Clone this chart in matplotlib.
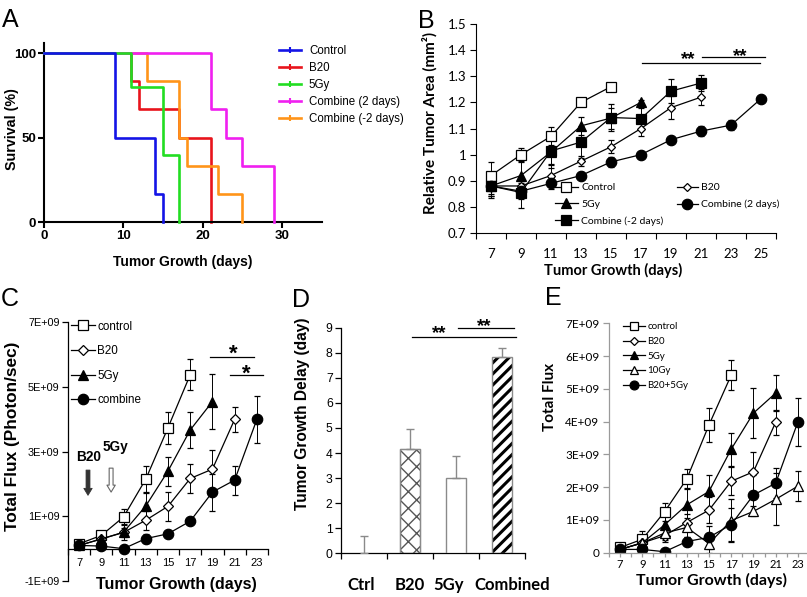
import matplotlib
matplotlib.use('Agg')
import matplotlib.pyplot as plt
import numpy as np
from matplotlib.lines import Line2D

W, H = 807, 597
fig = plt.figure(figsize=(W / 100, H / 100), dpi=100)

ARIAL = ['Liberation Sans', 'DejaVu Sans']
CALI = ['Lato', 'DejaVu Sans']


def box(l, t, r, b):
    return [l / W, 1 - b / H, (r - l) / W, (b - t) / H]


def ftext(x, y, s, **kw):
    return fig.text(x / W, 1 - y / H, s, **kw)


# ================= DATA =================
# Panel A: Kaplan-Meier survival
a_labels = ['Control', 'B20', '5Gy', 'Combine (2 days)', 'Combine (-2 days)']
a_colors = ['#1414e6', '#e8141c', '#22dd22', '#f020f0', '#ff9419']
a_ctrl_t = [0, 9, 14, 15]
a_ctrl_s = [100, 50, 16.7, 0]
a_b20_t = [0, 11, 12, 17, 21]
a_b20_s = [100, 83.3, 66.7, 50, 0]
a_5gy_t = [0, 11, 15, 17]
a_5gy_s = [100, 80, 40, 0]
a_c2_t = [0, 21, 23, 25, 29]
a_c2_s = [100, 66.7, 50, 33.3, 0]
a_cm2_t = [0, 13, 17, 18, 22, 25]
a_cm2_s = [100, 83.3, 50, 33.3, 16.7, 0]
a_xticks = [0, 10, 20, 30]
a_yticks = [0, 50, 100]

# Panel B: relative tumor area
b_days = ['7', '9', '11', '13', '15', '17', '19', '21', '23', '25']
b_labels = ['Control', 'B20', '5Gy', 'Combine (2 days)', 'Combine (-2 days)']
b_ctrl = [0.92, 1.00, 1.07, 1.20, 1.26]
b_ctrl_err = [0.05, 0.025, 0.035, 0.01, 0.01]
b_b20 = [0.88, 0.88, 0.92, 0.975, 1.03, 1.10, 1.18, 1.22]
b_b20_err = [0.04, 0.02, 0.04, 0.02, 0.025, 0.03, 0.045, 0.03]
b_5gy = [0.88, 0.92, 1.01, 1.11, 1.14, 1.20]
b_5gy_err = [0.03, 0.05, 0.06, 0.035, 0.04, 0.01]
b_c2 = [0.88, 0.86, 0.89, 0.92, 0.972, 1.00, 1.057, 1.09, 1.113, 1.214]
b_c2_err = [0.04, 0.03, 0.02, 0.015, 0.02, 0.01, 0.01, 0.02, 0.02, 0.012]
b_cm2 = [0.88, 0.855, 1.014, 1.048, 1.142, 1.138, 1.243, 1.274]
b_cm2_err = [0.045, 0.06, 0.05, 0.06, 0.05, 0.04, 0.045, 0.03]
b_yticks = [0.7, 0.8, 0.9, 1.0, 1.1, 1.2, 1.3, 1.4, 1.5]
b_yticklabels = ['0.7', '0.8', '0.9', '1', '1.1', '1.2', '1.3', '1.4', '1.5']

# Panel C: total flux (x1e9 photon/sec)
c_days = ['7', '9', '11', '13', '15', '17', '19', '21', '23']
c_labels = ['control', 'B20', '5Gy', 'combine']
c_ctrl = [0.15, 0.41, 0.98, 2.15, 3.74, 5.38]
c_ctrl_err = [0.05, 0.08, 0.25, 0.4, 0.5, 0.47]
c_b20 = [0.10, 0.30, 0.50, 0.88, 1.31, 2.17, 2.46, 4.00]
c_b20_err = [0.05, 0.05, 0.15, 0.3, 0.45, 0.45, 0.6, 0.38]
c_5gy = [0.10, 0.30, 0.51, 1.32, 2.40, 3.67, 4.55]
c_5gy_err = [0.05, 0.05, 0.25, 0.4, 0.45, 0.55, 0.85]
c_comb = [0.10, 0.08, 0.00, 0.31, 0.46, 0.85, 1.75, 2.12, 4.00]
c_comb_err = [0.05, 0.05, 0.05, 0.15, 0.1, 0.1, 0.57, 0.45, 0.73]
c_yticks = [-1, 1, 3, 5, 7]
c_yticklabels = ['-1E+09', '1E+09', '3E+09', '5E+09', '7E+09']

# Panel D: tumor growth delay
d_groups = ['Ctrl', 'B20', '5Gy', 'Combined']
d_vals = [0.0, 4.16, 2.99, 7.84]
d_err = [0.69, 0.79, 0.89, 0.34]
d_yticks = [0, 1, 2, 3, 4, 5, 6, 7, 8, 9]

# Panel E: total flux
e_days = ['7', '9', '11', '13', '15', '17', '19', '21', '23']
e_labels = ['control', 'B20', '5Gy', '10Gy', 'B20+5Gy']
e_ctrl = [0.16, 0.41, 1.25, 2.25, 3.90, 5.42]
e_ctrl_err = [0.05, 0.25, 0.27, 0.3, 0.52, 0.47]
e_b20 = [0.10, 0.30, 0.52, 0.92, 1.30, 2.18, 2.47, 3.98]
e_b20_err = [0.05, 0.1, 0.2, 0.25, 0.4, 0.43, 0.6, 0.38]
e_5gy = [0.10, 0.30, 0.85, 1.46, 1.87, 3.16, 4.26, 4.87]
e_5gy_err = [0.05, 0.1, 0.3, 0.5, 0.5, 0.5, 0.76, 0.55]
e_10gy = [0.10, 0.30, 0.60, 0.77, 0.28, 0.98, 1.26, 1.63, 2.03]
e_10gy_err = [0.05, 0.1, 0.2, 0.3, 0.3, 0.65, 0.15, 0.79, 0.46]
e_comb = [0.10, 0.10, 0.03, 0.34, 0.47, 0.86, 1.76, 2.12, 3.99]
e_comb_err = [0.05, 0.05, 0.05, 0.15, 0.35, 0.5, 0.6, 0.45, 0.72]
e_yticks = [0, 1, 2, 3, 4, 5, 6, 7]
e_yticklabels = ['0', '1E+09', '2E+09', '3E+09', '4E+09', '5E+09', '6E+09', '7E+09']


def clean(ax, color='k', lw=0.8):
    for s in ['top', 'right']:
        ax.spines[s].set_visible(False)
    for s in ['left', 'bottom']:
        ax.spines[s].set_color(color)
        ax.spines[s].set_linewidth(lw)
    ax.tick_params(which='both', direction='out', color=color, width=lw, labelcolor='k')


def cat_axis(ax, labels, fam, size, pad, ticklen, weight='normal', center_ticks=0):
    n = len(labels)
    ax.set_xlim(-0.5, n - 0.5)
    ax.set_xticks(np.arange(n))
    ax.set_xticklabels(labels, fontfamily=fam, fontsize=size, fontweight=weight)
    ax.set_xticks(np.arange(n + 1) - 0.5, minor=True)
    ax.tick_params(axis='x', which='major', length=center_ticks, pad=pad)
    ax.tick_params(axis='x', which='minor', length=ticklen)


# ================= Panel A =================
axA = fig.add_axes(box(44, 43, 321.6, 222.3))
a_series = [(a_ctrl_t, a_ctrl_s), (a_b20_t, a_b20_s), (a_5gy_t, a_5gy_s),
            (a_c2_t, a_c2_s), (a_cm2_t, a_cm2_s)]
a_z = [6, 2, 5, 4, 3]
for (t, s), c, z in zip(a_series, a_colors, a_z):
    axA.step(t, s, where='post', color=c, lw=1.9, zorder=z, clip_on=False)
axA.set_xlim(0, 35)
axA.set_ylim(0, 106)
clean(axA, lw=1.5)
axA.set_xticks(a_xticks)
axA.set_yticks(a_yticks)
axA.set_xticklabels([str(v) for v in a_xticks], fontfamily=ARIAL, fontsize=9.5, fontweight='bold')
axA.set_yticklabels([str(v) for v in a_yticks], fontfamily=ARIAL, fontsize=9.5, fontweight='bold')
axA.tick_params(length=4, pad=1.5)
hA = [Line2D([], [], color=c, lw=1.9, marker='|', ms=4, mew=1.5) for c in a_colors]
axA.legend(hA, a_labels, loc='upper left', bbox_to_anchor=(279 / W, 1 - 45.5 / H),
           bbox_transform=fig.transFigure, frameon=False, borderpad=0, borderaxespad=0,
           handlelength=1.9, handletextpad=0.7, labelspacing=0.42,
           prop={'family': ARIAL, 'size': 8.3})
ftext(183, 262, 'Tumor Growth (days)', ha='center', va='center', fontfamily=ARIAL,
      fontsize=10, fontweight='bold')
ftext(12, 129, 'Survival (%)', ha='center', va='center', rotation=90, fontfamily=ARIAL,
      fontsize=10.3, fontweight='bold')

# ================= Panel B =================
axB = fig.add_axes(box(476, 24, 776, 233))
xb = np.arange(len(b_days))
b_specs = [
    (b_ctrl, b_ctrl_err, 's', 'white', 7),
    (b_b20, b_b20_err, 'D', 'white', 4.5),
    (b_5gy, b_5gy_err, '^', 'black', 7.5),
    (b_c2, b_c2_err, 'o', 'black', 7.5),
    (b_cm2, b_cm2_err, 's', 'black', 7.5),
]
for vals, err, m, fc, ms in b_specs:
    axB.errorbar(xb[:len(vals)], vals, yerr=err, color='k', lw=0.9, marker=m, ms=ms,
                 mfc=fc, mec='k', mew=0.9, capsize=2.2, elinewidth=0.7, capthick=0.7)
axB.set_ylim(0.7, 1.5)
clean(axB, lw=0.8)
axB.set_yticks(b_yticks)
axB.set_yticklabels(b_yticklabels, fontfamily=CALI, fontsize=9.5)
axB.tick_params(axis='y', length=4, pad=3)
cat_axis(axB, b_days, CALI, 9.5, 10.5, 4)
# significance
axB.plot([5.04, 8.96], [1.35, 1.35], color='k', lw=0.9, clip_on=False)
axB.plot([7.02, 9.13], [1.373, 1.373], color='k', lw=0.9, clip_on=False)
ftext(688, 55 + 9.5, '**', ha='center', va='baseline', fontfamily=ARIAL, fontsize=13.5, fontweight='bold')
ftext(740, 52 + 9.5, '**', ha='center', va='baseline', fontfamily=ARIAL, fontsize=13.5, fontweight='bold')
hB = [Line2D([], [], color='k', lw=0.9, marker=m, ms=ms, mfc=fc, mec='k', mew=0.9)
      for _, _, m, fc, ms in b_specs]
legB1 = axB.legend([hB[0], hB[2], hB[4]], [b_labels[0], b_labels[2], b_labels[4]],
                   loc='upper left', bbox_to_anchor=(555 / W, 1 - 183 / H),
                   bbox_transform=fig.transFigure, frameon=False, borderpad=0, borderaxespad=0,
                   handlelength=2.2, handletextpad=0.3, labelspacing=0.72,
                   prop={'family': CALI, 'size': 7.5})
axB.add_artist(legB1)
axB.legend([hB[1], hB[3]], [b_labels[1], b_labels[3]],
           loc='upper left', bbox_to_anchor=(677 / W, 1 - 183 / H),
           bbox_transform=fig.transFigure, frameon=False, borderpad=0, borderaxespad=0,
           handlelength=2.0, handletextpad=0.3, labelspacing=0.72,
           prop={'family': CALI, 'size': 7.5})
ftext(613, 270.5, 'Tumor Growth (days)', ha='center', va='center', fontfamily=CALI,
      fontsize=10.5, fontweight='bold')
ftext(430, 123, 'Relative Tumor Area (mm²)', ha='center', va='center', rotation=90,
      fontfamily=CALI, fontsize=11, fontweight='bold')

# ================= Panel C =================
axC = fig.add_axes(box(68, 322.3, 268, 581))
xc = np.arange(len(c_days))
c_specs = [
    (c_ctrl, c_ctrl_err, 's', 'white', 7.5),
    (c_b20, c_b20_err, 'D', 'white', 5),
    (c_5gy, c_5gy_err, '^', 'black', 7.5),
    (c_comb, c_comb_err, 'o', 'black', 7.5),
]
for vals, err, m, fc, ms in c_specs:
    axC.errorbar(xc[:len(vals)], np.array(vals) * 1e9, yerr=np.array(err) * 1e9, color='k',
                 lw=0.9, marker=m, ms=ms, mfc=fc, mec='k', mew=0.9, capsize=2.2,
                 elinewidth=0.7, capthick=0.7)
axC.set_ylim(-1e9, 7e9)
clean(axC, lw=0.9)
axC.spines['bottom'].set_position(('data', 0))
axC.set_yticks(np.array(c_yticks) * 1e9)
axC.set_yticklabels(c_yticklabels, fontfamily=ARIAL, fontsize=7.8)
axC.tick_params(axis='y', length=4, pad=2)
cat_axis(axC, c_days, ARIAL, 8, 7, 4)
axC.plot([5.89, 7.87], [5.92e9, 5.92e9], color='k', lw=0.9, clip_on=False)
axC.plot([6.79, 8.27], [5.36e9, 5.36e9], color='k', lw=0.9, clip_on=False)
ftext(233, 348 + 12, '*', ha='center', va='baseline', fontfamily=ARIAL, fontsize=16, fontweight='bold')
ftext(246, 368 + 12, '*', ha='center', va='baseline', fontfamily=ARIAL, fontsize=16, fontweight='bold')
# treatment arrows
axC.annotate('', xy=(0.4, 1.65e9), xytext=(0.4, 2.43e9),
             arrowprops=dict(arrowstyle='simple,head_width=0.6,head_length=0.5,tail_width=0.28',
                             fc='#333333', ec='#333333', lw=0.6, mutation_scale=10,
                             shrinkA=0, shrinkB=0))
axC.annotate('', xy=(1.44, 1.75e9), xytext=(1.44, 2.49e9),
             arrowprops=dict(arrowstyle='simple,head_width=0.6,head_length=0.5,tail_width=0.28',
                             fc='white', ec='#666666', lw=0.8, mutation_scale=10,
                             shrinkA=0, shrinkB=0))
ftext(89, 457, 'B20', ha='center', va='center', fontfamily=ARIAL, fontsize=9.8, fontweight='bold')
ftext(115, 447, '5Gy', ha='center', va='center', fontfamily=ARIAL, fontsize=9.8, fontweight='bold')
hC = [Line2D([], [], color='k', lw=0.9, marker=m, ms=ms, mfc=fc, mec='k', mew=0.9)
      for _, _, m, fc, ms in c_specs]
axC.legend(hC, c_labels, loc='upper left', bbox_to_anchor=(71 / W, 1 - 320.5 / H),
           bbox_transform=fig.transFigure, frameon=False, borderpad=0, borderaxespad=0,
           handlelength=2.05, handletextpad=0.2, labelspacing=1.08,
           prop={'family': ARIAL, 'size': 8.4})
ftext(176.5, 585, 'Tumor Growth (days)', ha='center', va='center', fontfamily=ARIAL,
      fontsize=11.5, fontweight='bold')
ftext(13, 436.5, 'Total Flux (Photon/sec)', ha='center', va='center', rotation=90,
      fontfamily=ARIAL, fontsize=12.4, fontweight='bold')

# ================= Panel D =================
axD = fig.add_axes(box(341, 327.7, 525, 553.3))
xd = np.arange(len(d_groups))
bw = 0.42
axD.bar(xd[1], d_vals[1], bw, color='white', edgecolor='#555555', linewidth=0.8, hatch='xx', zorder=2)
axD.bar(xd[1], d_vals[1], bw, fill=False, edgecolor='#8a8a8a', linewidth=1.0, zorder=3)
axD.bar(xd[2], d_vals[2], bw, color='white', edgecolor='#8a8a8a', linewidth=1.0, zorder=3)
with plt.rc_context({'hatch.linewidth': 2.2}):
    hb = axD.bar(xd[3], d_vals[3], bw, color='white', edgecolor='black', linewidth=0, hatch='///', zorder=2)
    for p in hb:
        if hasattr(p, 'set_hatch_linewidth'):
            p.set_hatch_linewidth(2.2)
axD.bar(xd[3], d_vals[3], bw, fill=False, edgecolor='#8a8a8a', linewidth=1.0, zorder=3)
axD.errorbar(xd, d_vals, yerr=[np.zeros(len(d_err)), d_err], fmt='none', ecolor='#8a8a8a',
             elinewidth=1.0, capsize=3, capthick=1.0, zorder=4)
axD.set_ylim(0, 9)
clean(axD, lw=0.9)
axD.set_yticks(d_yticks)
axD.set_yticklabels([str(v) for v in d_yticks], fontfamily=ARIAL, fontsize=8.7)
axD.tick_params(axis='y', length=4, pad=2)
cat_axis(axD, ['' for _ in d_groups], CALI, 10, 19, 4)
d_label_dx = [-2.5, 0, -7, 10]
for i, g, dx in zip(xd, d_groups, d_label_dx):
    axD.annotate(g, xy=(i, 0), xycoords=('data', 'axes fraction'), xytext=(dx, -31.7),
                 textcoords='offset pixels', ha='center', va='center',
                 fontfamily=CALI, fontsize=12, fontweight='bold', annotation_clip=False)
axD.plot([1.04, 3.3], [8.64, 8.64], color='k', lw=0.9, clip_on=False)
axD.plot([2.04, 3.26], [8.97, 8.97], color='k', lw=0.9, clip_on=False)
ftext(439, 329 + 9.5, '**', ha='center', va='baseline', fontfamily=ARIAL, fontsize=13.5, fontweight='bold')
ftext(484, 321.7 + 9.5, '**', ha='center', va='baseline', fontfamily=ARIAL, fontsize=13.5, fontweight='bold')
ftext(302, 413.5, 'Tumor Growth Delay (day)', ha='center', va='center', rotation=90,
      fontfamily=ARIAL, fontsize=11.2, fontweight='bold')

# ================= Panel E =================
axE = fig.add_axes(box(609, 323.3, 809, 552.7))
xe = np.arange(len(e_days))
e_specs = [
    (e_ctrl, e_ctrl_err, 's', 'white', 7.5),
    (e_b20, e_b20_err, 'D', 'white', 5),
    (e_5gy, e_5gy_err, '^', 'black', 7.5),
    (e_10gy, e_10gy_err, '^', 'white', 7.5),
    (e_comb, e_comb_err, 'o', 'black', 7.5),
]
for vals, err, m, fc, ms in e_specs:
    axE.errorbar(xe[:len(vals)], np.array(vals) * 1e9, yerr=np.array(err) * 1e9, color='k',
                 lw=0.9, marker=m, ms=ms, mfc=fc, mec='k', mew=0.9, capsize=2.2,
                 elinewidth=0.7, capthick=0.7)
axE.set_ylim(0, 7e9)
clean(axE, color='#9a9a9a', lw=0.9)
axE.set_yticks(np.array(e_yticks) * 1e9)
axE.set_yticklabels(e_yticklabels, fontfamily=CALI, fontsize=8.5)
axE.tick_params(axis='y', length=4, pad=3)
cat_axis(axE, e_days, CALI, 8, 1.2, 3, center_ticks=3)
hE = [Line2D([], [], color='k', lw=0.9, marker=m, ms=ms * 0.85, mfc=fc, mec='k', mew=0.9)
      for _, _, m, fc, ms in e_specs]
axE.legend(hE, e_labels, loc='upper left', bbox_to_anchor=(623 / W, 1 - 322.5 / H),
           bbox_transform=fig.transFigure, frameon=False, borderpad=0, borderaxespad=0,
           handlelength=2.3, handletextpad=0.2, labelspacing=0.58,
           prop={'family': CALI, 'size': 7})
ftext(712, 580, 'Tumor Growth (days)', ha='center', va='center', fontfamily=CALI,
      fontsize=11.5, fontweight='bold')
ftext(550, 397, 'Total Flux', ha='center', va='center', rotation=90,
      fontfamily=CALI, fontsize=11, fontweight='bold')

# ================= Panel letters =================
for s, x, y in [('A', 10.5, 27), ('B', 426.5, 27.5), ('C', 10, 306), ('D', 301, 307), ('E', 553, 305)]:
    ftext(x, y, s, ha='center', va='baseline', fontfamily=ARIAL, fontsize=18)

fig.savefig('out.png', dpi=100)
